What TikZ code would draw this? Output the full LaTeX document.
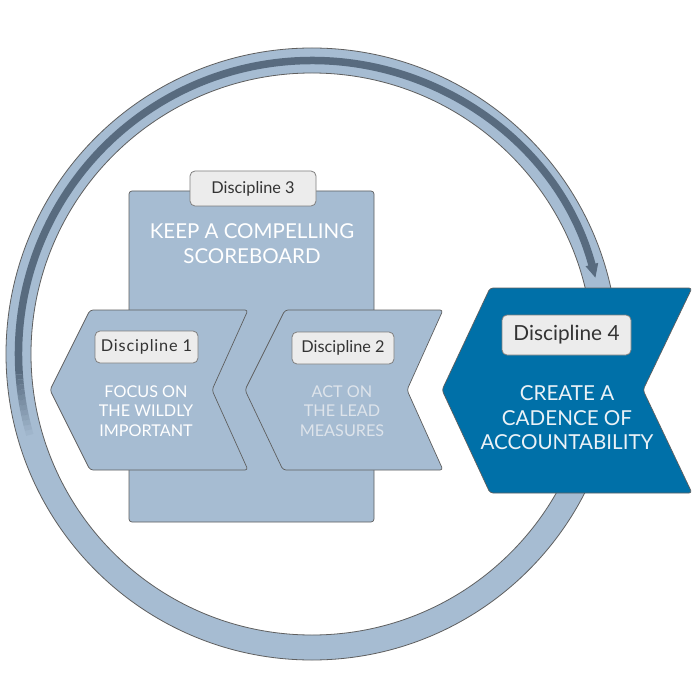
\documentclass[tikz,border=0pt]{standalone}
\usepackage{fontspec}
\setmainfont{Lato}
\usetikzlibrary{arrows.meta}
\definecolor{paleblue}{RGB}{166,188,210}
\definecolor{edgegray}{RGB}{95,95,95}
\definecolor{bandcol}{RGB}{88,107,127}
\definecolor{deepblue}{RGB}{0,112,168}
\definecolor{labelfill}{RGB}{236,236,236}
\definecolor{labeltext}{RGB}{51,51,51}
\definecolor{dimwhite}{RGB}{222,228,235}
\definecolor{softwhite}{RGB}{235,242,247}
\begin{document}
\begin{tikzpicture}[x=1pt,y=-1pt,
  ringedge/.style={draw=edgegray, line width=0.8pt},
  bandline/.style={draw=bandcol, line width=7.5pt},
  panel/.style={fill=paleblue, draw=edgegray, line width=0.7pt, rounded corners=3pt},
  darkpanel/.style={fill=deepblue, draw=edgegray, line width=0.7pt, rounded corners=3pt},
  tag/.style={fill=labelfill, draw=edgegray!80, line width=0.8pt, rounded corners=5pt, text=labeltext, inner sep=0pt},
  body/.style={align=center, inner sep=0pt}]
\useasboundingbox (0,0) rectangle (700,700);
\fill[white] (0,0) rectangle (700,700);
% ring
\fill[paleblue, even odd rule] (312,354) circle[radius=306] (312,354) circle[radius=281];
\draw[ringedge] (312,354) circle[radius=306];
\draw[ringedge] (312,354) circle[radius=281];
% dark band with fading start
\foreach \i [evaluate=\i as \op using (\i+1)/13] in {0,...,11}
  \draw[bandline, draw opacity=\op] (312,354) ++({-196+\i}:293.5) arc[start angle={-196+\i}, end angle={-195+\i}, radius=293.5];
\draw[bandline, -{Triangle[length=14pt,width=12pt]}] (312,354) ++(-184:293.5) arc[start angle=-184, end angle=-15, radius=293.5];
% discipline 3 board
\draw[panel] (129,191) rectangle (374,522);
\node[tag, minimum width=126pt, minimum height=35pt, font=\fontsize{16.3}{19}\selectfont] (d3) at (253,188.5) {Discipline 3};
\node[body, text=white, font=\fontsize{20.5}{25}\selectfont] (t3) at (252,244) {KEEP A COMPELLING\\SCOREBOARD};
% discipline 1 chevron
\draw[panel] (50,390) -- (90,310) -- (248,310) -- (212,390) -- (248,470) -- (90,470) -- cycle;
\node[tag, minimum width=103pt, minimum height=32pt, font=\fontsize{16.3}{19}\selectfont\addfontfeatures{LetterSpace=5}] (d1) at (146.5,347) {Discipline 1};
\node[body, text=white, font=\fontsize{16.2}{19.5}\selectfont] (t1) at (146,411) {FOCUS ON\\THE WILDLY\\IMPORTANT};
% discipline 2 chevron
\draw[panel] (245,390) -- (285,310) -- (443,310) -- (407,390) -- (443,470) -- (283,470) -- cycle;
\node[tag, minimum width=102pt, minimum height=32pt, font=\fontsize{16.3}{19}\selectfont] (d2) at (343,348) {Discipline 2};
\node[body, text=dimwhite, font=\fontsize{16.2}{19.5}\selectfont] (t2) at (342,411) {ACT ON\\THE LEAD\\MEASURES};
% discipline 4 chevron
\draw[darkpanel] (442,390) -- (490,288) -- (692,288) -- (643,390) -- (692,493) -- (490,493) -- cycle;
\node[tag, minimum width=129pt, minimum height=40pt, font=\fontsize{20.8}{24}\selectfont] (d4) at (566.5,335) {Discipline 4};
\node[body, text=softwhite, font=\fontsize{20.6}{24.5}\selectfont] (t4) at (567,418) {CREATE A\\CADENCE OF\\ACCOUNTABILITY};
\end{tikzpicture}
\end{document}
